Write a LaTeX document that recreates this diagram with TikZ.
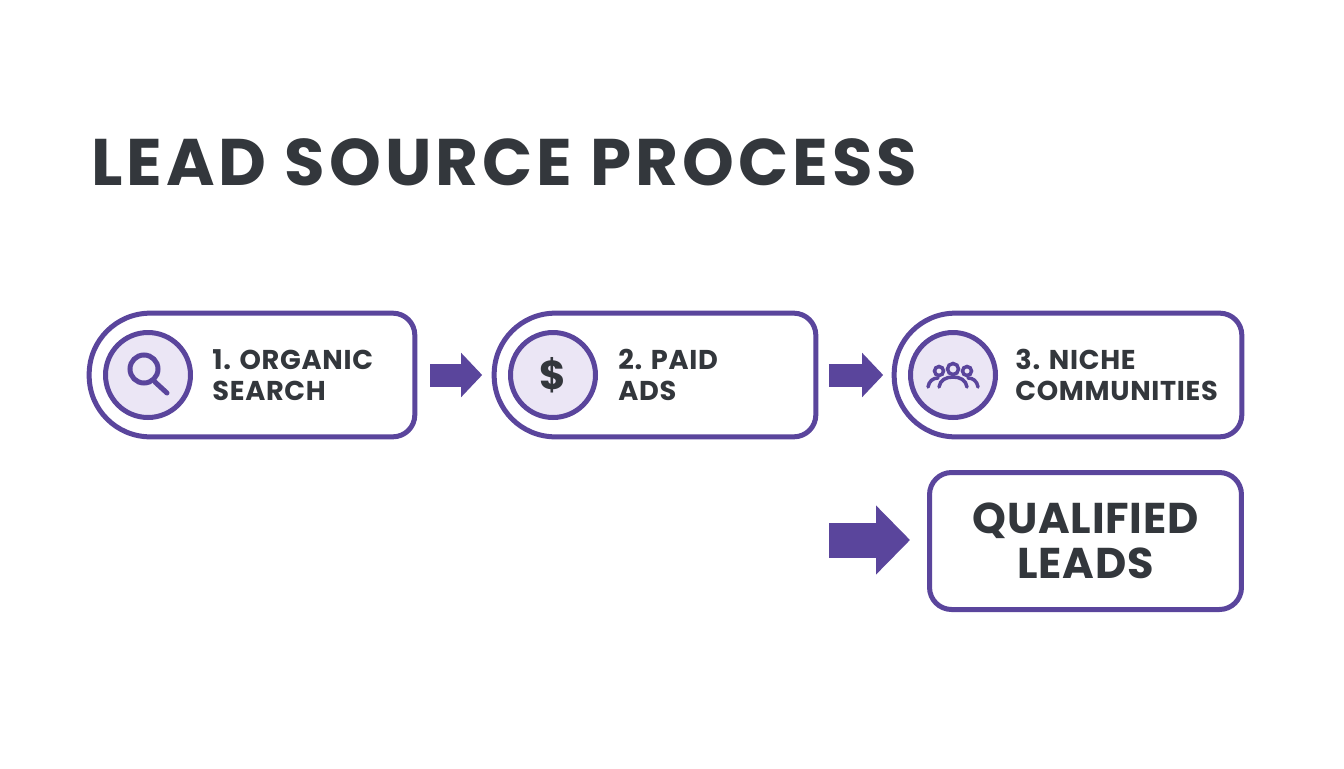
\documentclass[tikz,border=0pt]{standalone}
\usepackage{fontspec}
\setmainfont{Poppins}
\newfontfamily\titlefont[LetterSpace=6.1]{Poppins}
\newfontfamily\labelfont[LetterSpace=2.6]{Poppins}
\newfontfamily\resultfont[LetterSpace=1.7]{Poppins}
\usepackage{xcolor}
\usetikzlibrary{positioning,calc,arrows.meta}
\definecolor{leadpurple}{HTML}{5A459C}
\definecolor{leaddark}{HTML}{33373C}
\definecolor{leadtint}{HTML}{EBE6F5}

\begin{document}
\begin{tikzpicture}[
    x=0.02cm, y=-0.02cm,
    title/.style={font=\fontsize{37.5}{40}\selectfont\titlefont\bfseries, text=leaddark, inner sep=0pt, anchor=west},
    pill/.style={rectangle, inner sep=0pt, minimum width=#1, minimum height=2.46cm},
    outline/.style={draw=leadpurple, line width=0.1cm},
    badge/.style={circle, draw=leadpurple, fill=leadtint, line width=0.1cm, inner sep=0pt, minimum size=1.7cm},
    label/.style={font=\fontsize{15.5}{17.6}\selectfont\labelfont\bfseries, text=leaddark, align=left, anchor=west, inner sep=0pt},
    result/.style={rectangle, outline, rounded corners=0.44cm, inner sep=0pt, minimum width=6.24cm, minimum height=2.74cm,
        font=\fontsize{24.5}{25.5}\selectfont\resultfont\bfseries, text=leaddark, align=center},
    icon/.style={draw=leadpurple, line width=0.1cm, line cap=round},
    people/.style={draw=leadpurple, line width=0.07cm, line cap=round},
    smallarrow/.style={-{Triangle[length=0.42cm,width=0.86cm]}, draw=leadpurple, line width=0.46cm},
    bigarrow/.style={-{Triangle[length=0.68cm,width=1.34cm]}, draw=leadpurple, line width=0.7cm}
]
    \path[use as bounding box, fill=white] (0,0) rectangle (1344,768);

    \node[title] (heading) at (91,162) {LEAD SOURCE PROCESS};

    \node[pill=6.5cm] (organic) at (252,375) {};
    \node[pill=6.42cm] (paid) at (655,375) {};
    \node[pill=6.94cm] (niche) at (1068,375) {};
    \foreach \name in {organic,paid,niche} {
        \draw[outline, rounded corners=1.22cm] (\name.west) |- (\name.north)
            [rounded corners=0.44cm] -- (\name.north east) -- (\name.south east) -- (\name.south)
            [rounded corners=1.22cm] -| (\name.west);
    }

    \node[badge] (organicicon) at (148,375) {};
    \node[badge] (paidicon) at (553,375) {};
    \node[badge] (nicheicon) at (953,375) {};

    \draw[icon] (144,369) circle (14);
    \draw[icon] (155,382) -- (167,393);
    \node[font=\fontsize{23}{24}\selectfont\bfseries, text=leaddark] (dollar) at (paidicon) {\$};
    \draw[people] (953,369) circle (5.5);
    \draw[people] (939,371) circle (4.5);
    \draw[people] (967,371) circle (4.5);
    \draw[people] (939,387) .. controls (940,380) and (946,377) .. (953,377) .. controls (960,377) and (966,380) .. (967,387);
    \draw[people] (928,387) .. controls (929,381) and (933,378) .. (938,378);
    \draw[people] (978,387) .. controls (977,381) and (973,378) .. (968,378);

    \node[label] (organiclabel) at (212,375) {1. ORGANIC\\SEARCH};
    \node[label] (paidlabel) at (618,375) {2. PAID\\ADS};
    \node[label] (nichelabel) at (1015,375) {3. NICHE\\COMMUNITIES};

    \node[result] (leads) at (1085.5,541) {QUALIFIED\\LEADS};
    \coordinate (leadsin) at (829,540);

    \draw[smallarrow] ([xshift=0.31cm]organic.east) -- ([xshift=-0.24cm]paid.west);
    \draw[smallarrow] ([xshift=0.26cm]paid.east) -- ([xshift=-0.22cm]niche.west);
    \draw[bigarrow] (leadsin) -- ([xshift=-0.34cm]leads.west |- leadsin);
\end{tikzpicture}
\end{document}
